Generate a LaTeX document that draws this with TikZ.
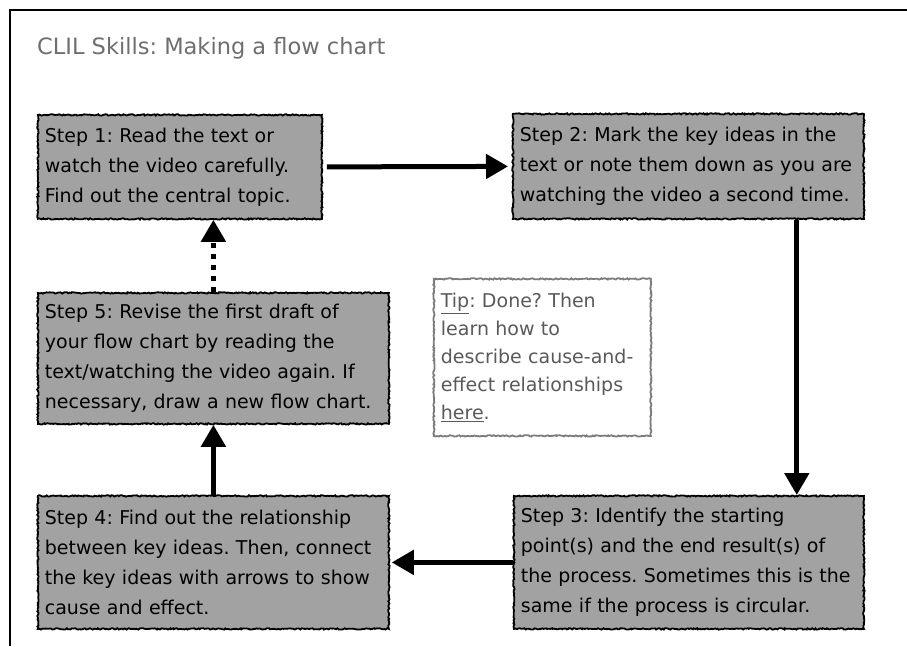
\documentclass[tikz,border=0pt]{standalone}
\usepackage{fontspec}
\setmainfont{DejaVu Sans}
\frenchspacing
\usetikzlibrary{arrows.meta,decorations.pathmorphing}

\definecolor{boxgray}{HTML}{A2A2A2}
\definecolor{titlegray}{HTML}{6E6E6E}
\definecolor{tipgray}{HTML}{5A5A5A}
\definecolor{tipedge}{HTML}{7C7C7C}

\tikzset{
    rough/.style={decorate, decoration={random steps, segment length=1.5pt, amplitude=0.7pt}},
    stepbox/.style={rough, draw=black, line width=1.8pt, fill=boxgray, anchor=north west,
        align=left, inner xsep=7pt, inner ysep=0pt, font=\fontsize{19}{30}\selectfont},
    tipbox/.style={rough, draw=tipedge, line width=1.8pt, fill=white, text=tipgray, anchor=north west,
        align=left, inner xsep=7pt, inner ysep=0pt, font=\fontsize{19}{28}\selectfont},
    flow/.style={line width=5pt, -{Triangle[length=22pt,width=24pt]}},
}

\begin{document}
\begin{tikzpicture}[x=1pt,y=-1pt]

        \useasboundingbox (0,0) rectangle (907,646);

        % Draw frame
        \draw[line width=1.5pt] (907,10) -- (10,10) -- (10,646);

        \node[anchor=base west, inner sep=0pt, text=titlegray, font=\fontsize{22.5}{27}\selectfont]
            (title) at (37,54) {CLIL Skills: Making a flow chart};

        \node[stepbox, minimum width=284pt, text width=270pt, minimum height=104pt] (step1) at (37,114)
            {Step 1: Read the text or\\watch the video carefully.\\Find out the central topic.};
        \node[stepbox, minimum width=351pt, text width=337pt, minimum height=105pt] (step2) at (512,113)
            {Step 2: Mark the key ideas in the\\text or note them down as you are\\watching the video a second time.};
        \node[stepbox, minimum width=350pt, text width=336pt, minimum height=133pt] (step3) at (513,495)
            {Step 3: Identify the starting\\point(s) and the end result(s) of\\the process. Sometimes this is the\\same if the process is circular.};
        \node[stepbox, minimum width=351pt, text width=337pt, minimum height=133pt] (step4) at (37,495)
            {Step 4: Find out the relationship\\between key ideas. Then, connect\\the key ideas with arrows to show\\cause and effect.};
        \node[stepbox, minimum width=351pt, text width=337pt, minimum height=131pt] (step5) at (37,292)
            {Step 5: Revise the first draft of\\your flow chart by reading the\\text/watching the video again. If\\necessary, draw a new flow chart.};

        \node[tipbox, minimum width=217pt, text width=203pt, minimum height=157pt] (tip) at (433,278)
            {\underline{Tip}: Done? Then\\learn how to\\describe cause-and-\\effect relationships\\\underline{here}.};

        % Draw arrows
        \draw[flow, shorten <=4pt, shorten >=4pt] (step1.east) -- (step2.west);
        \draw[flow] ([xshift=-68pt]step2.south east) -- ([xshift=-68pt]step3.north east);
        \draw[flow, shorten >=2pt] (step3.west) -- (step4.east);
        \draw[flow] (step4.north) -- (step5.south);
        \draw[flow, dash pattern=on 5pt off 6pt] (step5.north) -- (step1.south -| step5.north);

\end{tikzpicture}
\end{document}
